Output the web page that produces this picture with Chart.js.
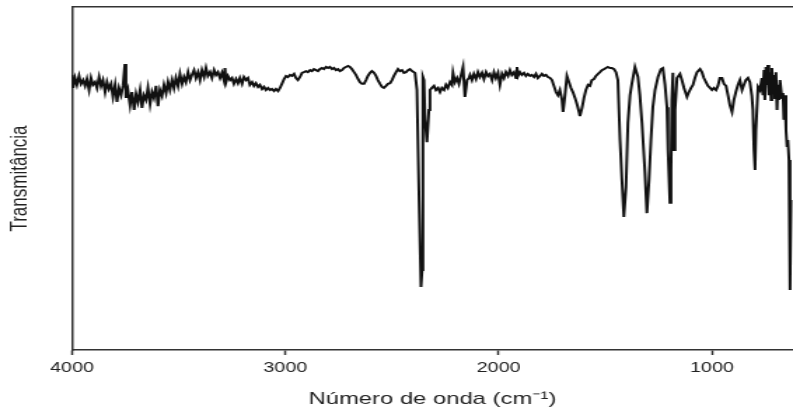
<!DOCTYPE html>
<html><head><meta charset="utf-8">
<script src="https://cdn.jsdelivr.net/npm/chart.js@4"></script>
<style>html,body{margin:0;padding:0;background:#fff;overflow:hidden}
#c{display:block}</style>
</head><body>
<canvas id="c" width="566" height="415" style="width:793px;height:415px"></canvas>
<script>
const wavenumbers=[4000,3995,3986,3977,3967,3958,3948,3939,3930,3920,3911,3902,3892,3883,3873,3864,3855,3845,3836,3827,3817,3808,3798,3789,3780,3770,3761,3752,3747,3738,3728,3719,3709,3700,3691,3681,3672,3663,3653,3644,3634,3625,3616,3606,3597,3588,3578,3569,3559,3550,3541,3531,3522,3513,3503,3494,3484,3475,3466,3456,3447,3438,3428,3419,3409,3400,3391,3381,3372,3363,3353,3344,3334,
3325,3316,3306,3297,3288,3283,3278,3269,3259,3250,3241,3231,3222,3213,3203,3194,3184,3175,3166,3156,3147,3138,3128,3119,3109,3100,3091,3081,3072,3063,3053,3044,3034,3025,3016,3006,2997,2988,2978,2969,2959,2950,2941,2931,2922,2913,2903,2894,2884,2875,2866,2856,2847,2838,2828,2819,2809,2800,2791,2781,2772,2763,2753,2744,2734,2725,2716,2706,2697,2688,2678,2669,2659,2650,2641,2631,2622,2613,2603,2594,2584,2575,2566,2556,2547,2538,2528,2519,2509,2500,2491,2481,2472,2463,2453,2444,2434,2425,2416,2406,2397,
2392,2383,2373,2364,2359,2355,2350,2345,2336,2327,2322,2313,2303,2294,2284,2275,2266,2256,2247,2238,2228,2219,2214,2205,2195,2186,2177,2167,2158,2148,2139,
2134,2125,2116,2106,2097,2088,2078,2069,2059,2050,2041,2031,2022,2013,2003,1994,1984,1975,1966,1956,1947,1938,1928,1919,1914,1909,1900,1891,1881,1872,1863,1853,1844,1834,1825,1816,1806,1797,1788,1778,1769,1759,1750,1741,1731,1722,1713,1703,1698,1689,1680,1670,1661,1652,1642,1633,1623,1619,1609,1600,1591,1581,1572,1563,1553,1544,1534,1525,1516,1506,1497,1488,1478,1469,1459,1450,1441,
1431,1422,1413,1403,1394,1384,1375,1361,1347,1338,1328,1314,1305,1295,1286,1277,1267,1253,1239,1230,1220,1211,1206,1197,1192,1188,1183,1178,1173,1164,1150,1141,1131,1117,1108,1098,1089,1080,1070,1056,
1047,1038,1028,1019,1009,1000,991,981,972,963,953,944,934,925,916,906,897,888,878,869,859,850,841,831,822,813,808,803,798,794,784,775,766,761,756,752,747,742,738,733,728,723,719,714,709,705,700,695,691,686,681,672,667,663,658,653,648,644,639,634,630];
const transmittance=[80.2,76.4,79.3,77.3,79.9,77.6,78.7,77.0,79.0,75.8,79.3,77.3,78.1,76.4,79.6,77.0,78.7,75.2,78.1,76.1,77.6,73.8,77.3,72.3,76.4,74.3,77.0,83.4,73.5,75.8,71.4,75.2,70.0,74.6,72.3,75.8,70.6,74.3,72.9,76.4,71.7,75.2,73.5,77.0,71.1,75.8,74.1,77.3,74.9,78.1,75.8,78.7,76.4,79.3,77.0,80.5,77.6,79.6,78.1,81.0,78.7,80.2,81.6,79.3,81.0,78.7,81.6,79.6,82.2,79.9,81.0,79.3,81.6,
80.2,81.0,79.3,80.8,78.7,82.2,78.1,79.9,78.7,79.3,77.6,79.0,77.8,79.3,77.6,79.6,78.7,79.3,77.3,78.1,77.0,77.8,76.7,77.3,76.1,76.7,75.8,76.4,75.8,76.1,75.5,76.1,75.5,76.4,77.6,79.0,79.9,79.6,80.2,79.9,80.5,79.3,78.7,79.6,80.8,81.0,81.3,81.0,81.6,81.3,81.9,81.6,81.3,81.9,82.2,81.9,82.5,82.2,82.5,81.9,82.2,81.6,81.9,81.3,81.6,82.2,82.5,82.8,82.5,81.9,81.0,80.2,79.0,78.1,77.6,77.6,78.7,79.9,80.8,81.3,80.8,79.9,78.7,77.6,76.7,76.4,77.0,77.6,77.8,78.7,79.9,81.0,81.9,81.3,81.6,80.8,81.0,81.6,81.9,81.3,81.0,
80.8,75.8,43.7,18.4,23.3,79.6,78.7,67.1,60.6,70.0,75.8,76.4,77.0,75.8,76.4,75.2,76.4,75.8,77.3,76.4,78.1,77.3,80.8,78.1,79.3,77.6,79.9,82.5,73.8,78.7,79.3,
80.2,78.7,80.5,79.0,81.0,79.6,80.8,79.0,81.0,79.9,80.5,78.7,81.0,79.3,80.8,77.3,80.5,79.3,81.0,79.9,81.6,80.2,81.0,79.3,82.5,79.9,81.0,80.2,80.8,79.9,80.5,79.9,80.2,79.6,80.5,79.3,79.9,80.5,79.9,80.2,79.6,79.3,78.7,77.0,75.2,74.3,75.8,72.9,69.4,74.3,79.9,78.1,76.4,75.2,73.5,71.7,69.4,68.2,70.6,73.5,75.8,77.3,77.0,78.7,79.0,79.9,80.5,81.0,81.6,81.9,82.2,82.5,82.2,82.2,81.9,81.0,78.7,
61.2,49.6,38.8,47.5,66.2,74.3,77.8,82.5,79.6,74.3,66.2,51.6,39.9,49.6,61.2,70.8,75.8,79.6,81.9,82.2,77.3,70.8,58.3,42.9,52.5,72.9,80.8,58.3,70.0,79.3,80.5,78.7,76.4,73.8,75.2,76.4,77.3,79.3,81.0,81.9,
81.0,79.3,78.1,77.0,76.4,75.8,76.4,75.8,77.0,79.3,79.3,77.6,77.0,74.3,71.4,69.4,72.9,75.2,77.3,78.7,75.8,77.3,78.7,79.3,78.1,74.1,70.0,58.3,52.5,64.1,76.7,75.8,79.3,74.3,81.6,72.9,82.5,77.3,83.1,74.3,81.0,72.9,82.2,75.8,80.2,73.5,81.0,70.0,77.3,72.9,78.7,73.5,74.9,67.1,74.3,64.1,59.2,61.2,55.4,17.5,43.7];
const xTicks=[4000,3000,2000,1000];
const xRange=[620,4000];
const yRange=[0,100];
const xTitle='Número de onda (cm⁻¹)';
const yTitle='Transmitância';

const canvas=document.getElementById('c');
const SX=793/canvas.width;
const FONT='"Liberation Sans", Arial, sans-serif';
const points=wavenumbers.map((w,i)=>({x:w,y:transmittance[i]}));

new Chart(canvas,{
  type:'line',
  data:{datasets:[{data:points,borderColor:'#111',borderWidth:2,pointRadius:0,tension:0,fill:false}]},
  options:{
    responsive:false,animation:false,devicePixelRatio:1,
    layout:{padding:{top:7,left:0,right:0,bottom:0}},
    plugins:{legend:{display:false},tooltip:{enabled:false}},
    scales:{
      x:{type:'linear',position:'bottom',min:xRange[0],max:xRange[1],reverse:true,
        afterBuildTicks:s=>{s.ticks=xTicks.map(v=>({value:v}));},
        ticks:{font:{family:FONT,size:14},color:'#222',padding:5,maxRotation:0,autoSkip:false,callback:v=>String(v)},
        grid:{display:true,drawOnChartArea:false,drawTicks:true,tickLength:5,tickWidth:1.5,tickColor:'#333'},
        border:{display:true,color:'#333',width:1.5},
        title:{display:true,text:xTitle,font:{family:FONT,size:17},color:'#222',padding:{top:0,bottom:5}},
        afterFit:s=>{s.height=65;}
      },
      x2:{type:'linear',position:'top',min:xRange[0],max:xRange[1],reverse:true,
        ticks:{display:false},grid:{display:false},
        border:{display:true,color:'#333',width:1.5},
        afterFit:s=>{s.height=0;}
      },
      y:{type:'linear',min:yRange[0],max:yRange[1],
        ticks:{display:false},grid:{display:false},
        border:{display:true,color:'#333',width:1.5},
        title:{display:true,text:yTitle,font:{family:FONT,size:17},color:'#222',padding:{top:4,bottom:0}},
        afterFit:s=>{s.width=72/SX;}
      }
    }
  }
});
</script>
</body></html>
